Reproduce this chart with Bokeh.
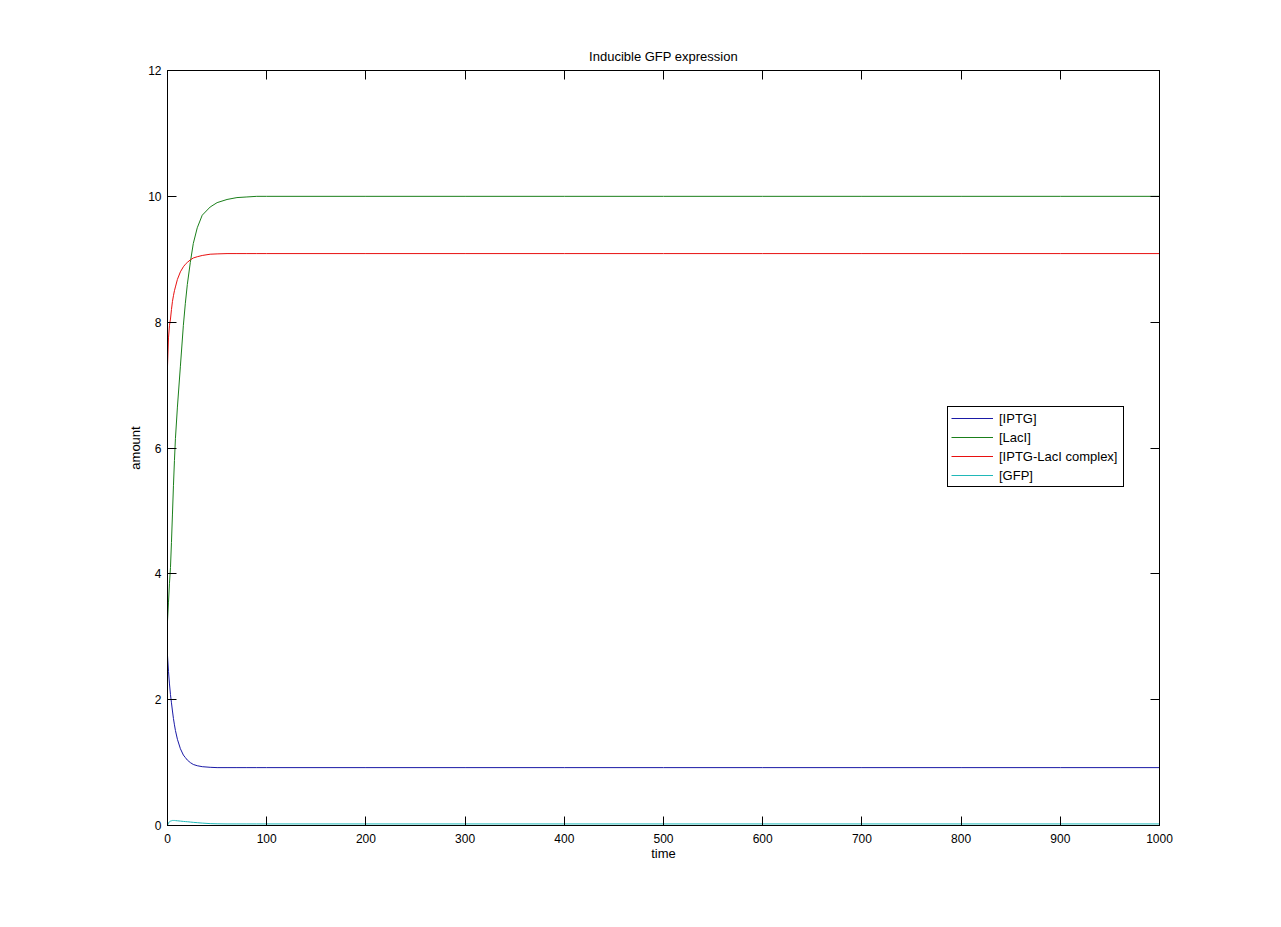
from bokeh.plotting import figure
from bokeh.models import Range1d, LinearAxis, Legend, LegendItem, FixedTicker, ColumnDataSource
from bokeh.embed import file_html
from bokeh.resources import INLINE

# ---- data ----
time = [0, 1, 2, 3, 4, 5, 6, 7, 8, 10, 13, 16, 18, 20, 23, 26, 30, 35, 43, 50,
        60, 70, 80, 90, 100, 200, 300, 400, 500, 600, 700, 800, 900, 1000]
iptg = [2.70, 2.45, 2.25, 2.08, 1.95, 1.82, 1.70, 1.60, 1.51, 1.37, 1.22, 1.12, 1.08, 1.04,
        1.00, 0.97, 0.95, 0.935, 0.925, 0.92, 0.92, 0.92, 0.92, 0.92, 0.92, 0.92, 0.92,
        0.92, 0.92, 0.92, 0.92, 0.92, 0.92, 0.92]
laci = [3.25, 3.55, 3.85, 4.10, 4.50, 4.95, 5.40, 5.80, 6.15, 6.65, 7.30, 7.95, 8.30, 8.60,
        8.95, 9.25, 9.50, 9.70, 9.83, 9.90, 9.95, 9.98, 9.99, 10.0, 10.0, 10.0, 10.0,
        10.0, 10.0, 10.0, 10.0, 10.0, 10.0, 10.0]
complex_ = [7.30, 7.75, 7.95, 8.05, 8.20, 8.33, 8.42, 8.50, 8.56, 8.68, 8.80, 8.88, 8.92, 8.95,
            8.99, 9.02, 9.04, 9.06, 9.08, 9.085, 9.09, 9.09, 9.09, 9.09, 9.09, 9.09, 9.09,
            9.09, 9.09, 9.09, 9.09, 9.09, 9.09, 9.09]
gfp = [0.0, 0.04, 0.06, 0.07, 0.075, 0.08, 0.08, 0.08, 0.078, 0.075, 0.07, 0.065, 0.062, 0.06,
       0.055, 0.05, 0.045, 0.038, 0.03, 0.027, 0.025, 0.025, 0.025, 0.025, 0.025, 0.025, 0.025,
       0.025, 0.025, 0.025, 0.025, 0.025, 0.025, 0.025]

series_names = ["[IPTG]", "[LacI]", "[IPTG-LacI complex]", "[GFP]"]
series_colors = ["#1a1aa6", "#1a7f1a", "#e81010", "#20b8b8"]
x_ticks = [0, 100, 200, 300, 400, 500, 600, 700, 800, 900, 1000]
y_ticks = [0, 2, 4, 6, 8, 10, 12]

FONT = "Liberation Sans"

p = figure(width=1265, height=911, output_backend="svg", toolbar_location=None,
           x_range=Range1d(0, 1000), y_range=Range1d(0, 12),
           min_border_left=167, min_border_right=106, min_border_top=70, min_border_bottom=86,
           title="Inducible GFP expression")
p.background_fill_color = "white"
p.border_fill_color = "white"
p.outline_line_color = "black"
p.outline_line_width = 1
p.grid.visible = False

p.title.align = "center"
p.title.text_font = FONT
p.title.text_font_size = "13px"
p.title.text_font_style = "normal"
p.title.text_color = "black"
p.title.standoff = 14

def style_axis(ax, show_labels=True):
    ax.major_tick_in = 9
    ax.major_tick_out = 0
    ax.minor_tick_in = 0
    ax.minor_tick_out = 0
    ax.axis_line_color = "black"
    ax.major_tick_line_color = "black"
    ax.major_label_text_font = FONT
    ax.major_label_text_font_size = "12px"
    ax.major_label_text_color = "black" if show_labels else None
    ax.axis_label_text_font = FONT
    ax.axis_label_text_font_size = "13px"
    ax.axis_label_text_font_style = "normal"
    ax.axis_label_text_color = "black"

p.xaxis.ticker = FixedTicker(ticks=x_ticks)
p.yaxis.ticker = FixedTicker(ticks=y_ticks)
p.xaxis.axis_label = "time"
p.yaxis.axis_label = "amount"
style_axis(p.xaxis[0])
style_axis(p.yaxis[0])
p.xaxis.major_label_standoff = 8
p.yaxis.major_label_standoff = 6
p.xaxis.axis_label_standoff = 0
p.yaxis.axis_label_standoff = 2

top_ax = LinearAxis(ticker=FixedTicker(ticks=x_ticks))
right_ax = LinearAxis(ticker=FixedTicker(ticks=y_ticks))
style_axis(top_ax, show_labels=False)
style_axis(right_ax, show_labels=False)
p.add_layout(top_ax, "above")
p.add_layout(right_ax, "right")

src = ColumnDataSource(dict(t=time, iptg=iptg, laci=laci, cplx=complex_, gfp=gfp))
renderers = []
for col, color in zip(["iptg", "laci", "cplx", "gfp"], series_colors):
    r = p.line("t", col, source=src, line_color=color, line_width=1)
    renderers.append(r)

legend = Legend(items=[LegendItem(label=n, renderers=[r]) for n, r in zip(series_names, renderers)],
                location=(780, 338))
legend.border_line_color = "black"
legend.border_line_alpha = 1
legend.border_line_width = 1
legend.background_fill_color = "white"
legend.background_fill_alpha = 1
legend.label_text_font = FONT
legend.label_text_font_size = "13px"
legend.label_text_color = "black"
legend.padding = 3
legend.spacing = 3
legend.margin = 0
legend.glyph_width = 42
legend.glyph_height = 16
legend.label_height = 16
legend.label_width = 121
legend.label_standoff = 6
p.add_layout(legend)

open("out.html", "w").write(file_html(p, INLINE))
